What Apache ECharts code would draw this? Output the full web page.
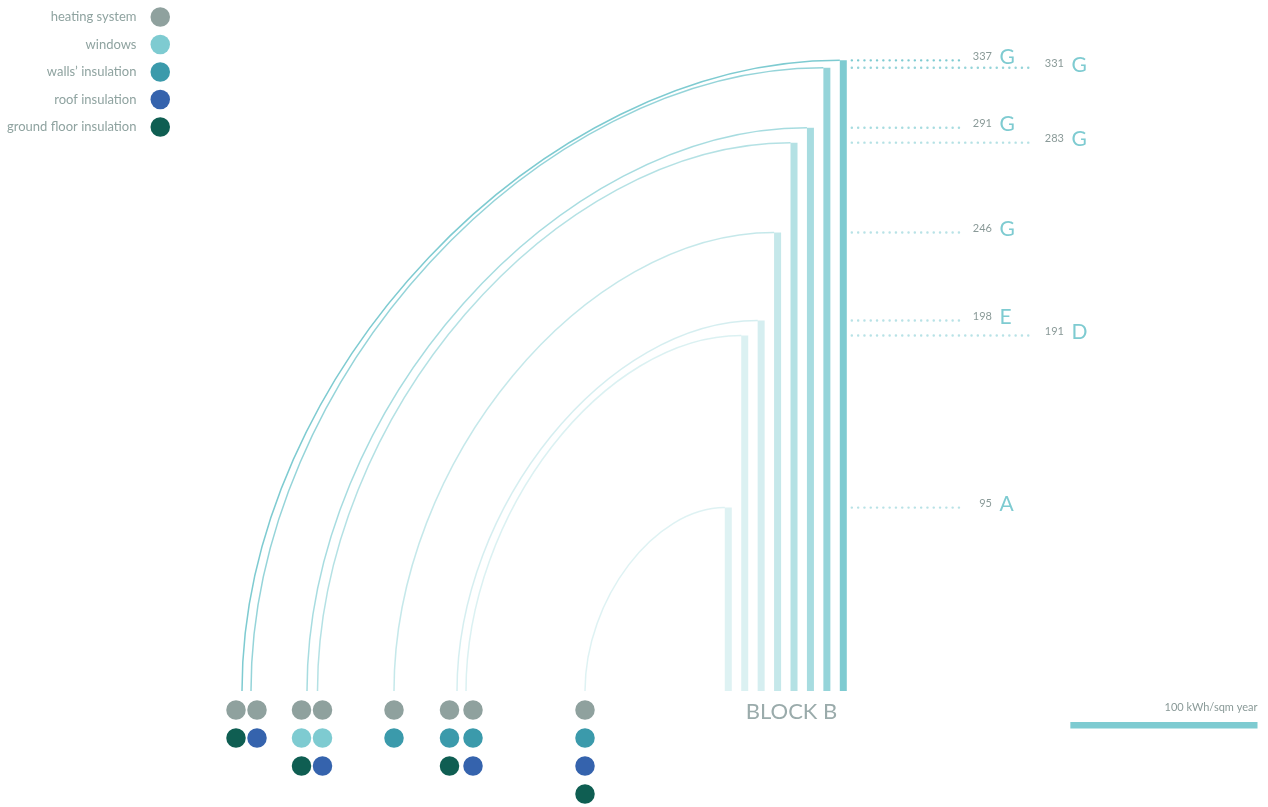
<!DOCTYPE html>
<html>
<head>
<meta charset="utf-8">
<script src="https://cdn.jsdelivr.net/npm/echarts@6/dist/echarts.min.js"></script>
<style>
    html, body { margin: 0; padding: 0; background: #fff; }
    #chart { width: 1268px; height: 807px; }
</style>
</head>
<body>
<div id="chart"></div>
<script>
// data
var measures = ['heating system', 'windows', 'walls\u2019 insulation', 'roof insulation', 'ground floor insulation'];
var scenarioLabels = [337, 331, 291, 283, 246, 198, 191, 95];
var scenarioHeights = [337, 333, 301, 293, 245, 198, 190, 98];   // bar heights as drawn
var scenarioClasses = ['G', 'G', 'G', 'G', 'G', 'E', 'D', 'A'];
var scenarioMeasures = [[0, 4], [0, 3], [0, 1, 4], [0, 1, 3], [0, 2], [0, 2, 4], [0, 2, 3], [0, 2, 3, 4]];
var scaleValue = 100;
var scaleLabel = '100 kWh/sqm year';
var blockName = 'BLOCK B';

// layout / style
var measureColors = ['#8fa19e', '#7ecbd1', '#3b9aab', '#3563ad', '#0f5e52'];
var barRight = 843.3, barStep = 16.43, barWidth = 7;
var columnX = [236, 257, 301.5, 322.5, 394, 449.5, 473, 585];
var arcEndX = [242, 251, 307, 317.5, 394, 457, 466, 585];
var labelCol = [0, 1, 0, 1, 0, 0, 1, 0];
var labelColEnd = [962, 1034];
var shades = [1, 0.82, 0.68, 0.58, 0.45, 0.33, 0.28, 0.26];
var font = 'Lato';
var grey = '#8a9a98';

function tint(a) {
    return 'rgba(126,203,209,' + a + ')';
}

function renderScenario(params, api) {
    var i = api.value(3);
    var top = api.coord([api.value(0), api.value(1)]);
    var base = api.coord([api.value(0), 0]);
    var end = api.coord([api.value(2), 0]);
    var left = top[0] - barWidth / 2;
    var rx = left - end[0], ry = base[1] - top[1], k = 0.5;
    var lineStart = api.coord([barRight, 0])[0] + barWidth / 2 + 5;
    var lineEnd = api.coord([labelColEnd[labelCol[i]], 0])[0];
    var ly = top[1];
    var color = tint(shades[i]);
    return {
        type: 'group',
        children: [
            {
                type: 'rect',
                shape: {x: left, y: top[1], width: barWidth, height: base[1] - top[1]},
                style: {fill: color}
            },
            {
                type: 'bezierCurve',
                shape: {
                    x1: end[0], y1: base[1],
                    cpx1: end[0], cpy1: base[1] - k * ry,
                    cpx2: left - k * rx, cpy2: top[1],
                    x2: left, y2: top[1]
                },
                style: {fill: null, stroke: color, lineWidth: 1.5}
            },
            {
                type: 'line',
                shape: {x1: lineStart, y1: ly, x2: lineEnd, y2: ly},
                style: {stroke: tint(Math.max(shades[i], 0.55)), lineWidth: 2.4, lineDash: [0.1, 6.2], lineCap: 'round'}
            },
            {
                type: 'text',
                x: lineEnd + 30, y: ly - 4,
                style: {text: String(scenarioLabels[i]), align: 'right', verticalAlign: 'middle',
                    fontSize: 11, fontFamily: font, fill: grey}
            },
            {
                type: 'text',
                x: lineEnd + 37.5, y: ly - 3,
                style: {text: scenarioClasses[i], align: 'left', verticalAlign: 'middle',
                    fontSize: 21, fontFamily: font, fill: '#7ecbd1'}
            }
        ]
    };
}

function renderDot(params, api) {
    var p = api.coord([api.value(0), 0]);
    return {
        type: 'circle',
        shape: {cx: p[0], cy: p[1] + 19 + api.value(1) * 28, r: 9.75},
        style: {fill: api.visual('color')}
    };
}

function renderNotes(params, api) {
    var base = api.coord([0, 0])[1];
    var len = api.size([0, api.value(0)])[1];
    var right = api.coord([1257.5, 0])[0];
    var mid = api.coord([791.5, 0])[0];
    return {
        type: 'group',
        children: [
            {
                type: 'rect',
                shape: {x: right - len, y: base + 31, width: len, height: 6.5},
                style: {fill: '#7ecbd1'}
            },
            {
                type: 'text',
                x: right, y: base + 16,
                style: {text: scaleLabel, align: 'right', verticalAlign: 'middle',
                    fontSize: 11, fontFamily: font, fill: grey}
            },
            {
                type: 'text',
                x: mid, y: base + 21,
                style: {text: blockName, align: 'center', verticalAlign: 'middle',
                    fontSize: 22, fontFamily: font, fill: '#9aabab'}
            }
        ]
    };
}

var scenarioData = scenarioHeights.map(function (h, i) {
    return [barRight - i * barStep, h, arcEndX[i], i];
});

var series = [
    {
        name: 'scenarios',
        type: 'custom',
        renderItem: renderScenario,
        data: scenarioData,
        silent: true
    },
    {
        name: 'notes',
        type: 'custom',
        renderItem: renderNotes,
        data: [[scaleValue]],
        silent: true
    }
];

measures.forEach(function (m, mi) {
    var d = [];
    scenarioMeasures.forEach(function (list, i) {
        var row = list.indexOf(mi);
        if (row >= 0) d.push([columnX[i], row]);
    });
    series.push({
        name: m,
        type: 'custom',
        renderItem: renderDot,
        itemStyle: {color: measureColors[mi]},
        data: d,
        silent: true
    });
});

var chart = echarts.init(document.getElementById('chart'));
chart.setOption({
    animation: false,
    backgroundColor: '#fff',
    grid: {left: 0, right: 0, top: 36, bottom: 116},
    xAxis: {type: 'value', min: 0, max: 1268, show: false},
    yAxis: {type: 'value', min: 0, max: 350, show: false},
    legend: {
        data: measures,
        orient: 'vertical',
        align: 'right',
        right: 1098,
        top: 7.25,
        padding: 0,
        icon: 'circle',
        itemWidth: 19.5,
        itemHeight: 19.5,
        itemGap: 8,
        selectedMode: false,
        textStyle: {fontSize: 13, fontFamily: font, color: '#8fa3a0', padding: [0, 9, 0, 0]}
    },
    series: series
});
</script>
</body>
</html>
